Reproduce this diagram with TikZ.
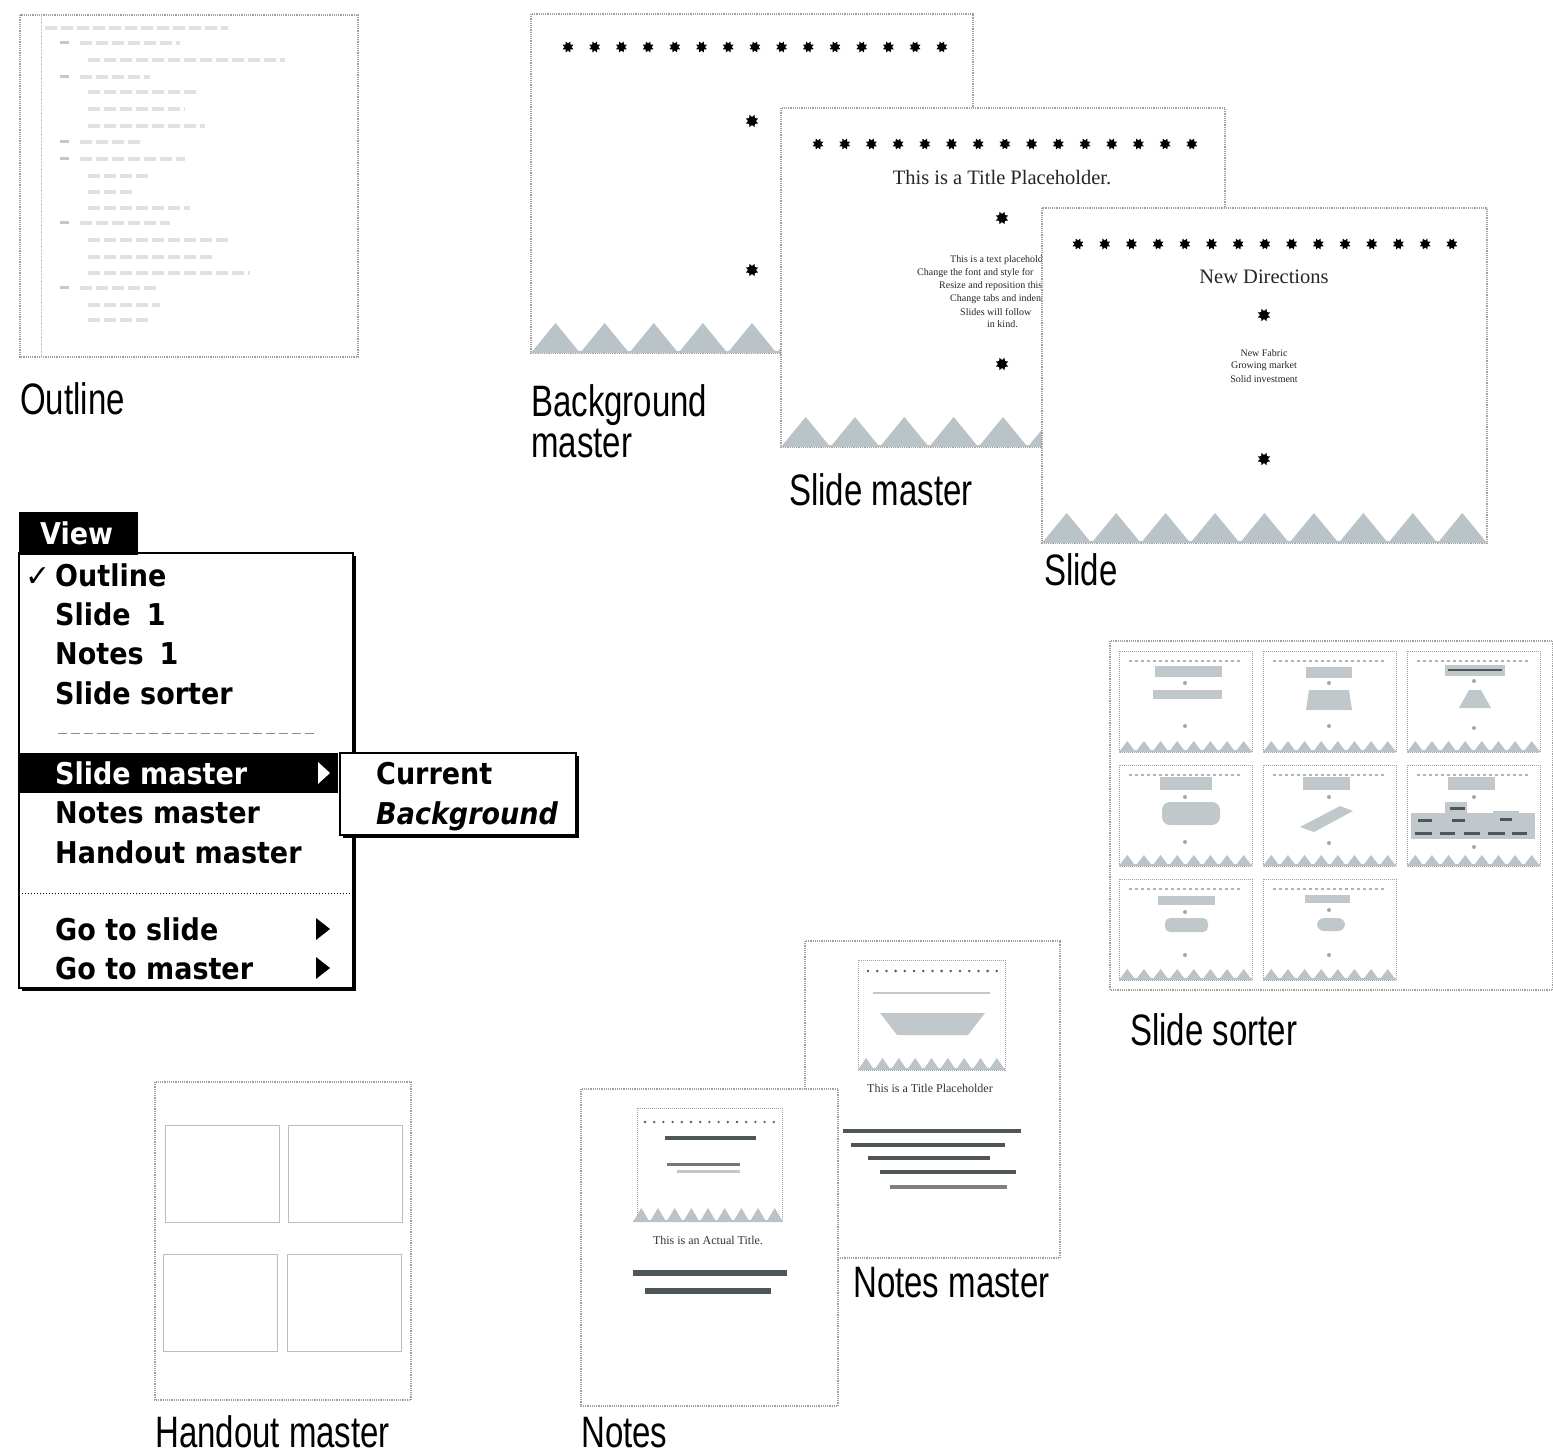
\documentclass[tikz,border=0pt]{standalone}
\usepackage{fontspec}
\setmainfont{Liberation Serif}
\newfontfamily\capfont[FakeStretch=0.75]{Liberation Sans}
\newfontfamily\menufont[FakeStretch=0.9]{DejaVu Sans}
\newfontfamily\symfont{DejaVu Sans}
\usetikzlibrary{shapes.geometric}

\definecolor{hill}{RGB}{186,195,199}
\definecolor{blot}{RGB}{192,200,204}
\definecolor{ink}{RGB}{78,86,90}
\definecolor{frame}{RGB}{160,160,160}
\definecolor{faint}{RGB}{224,226,226}

\tikzset{
  page/.style={draw=frame, line width=1.2pt, densely dotted, fill=white},
  caption/.style={anchor=base west, inner sep=0pt, font=\capfont\fontsize{44}{48}\selectfont},
  menuitem/.style={anchor=base west, inner sep=0pt, font=\menufont\bfseries\fontsize{30}{32}\selectfont},
  dot/.style={star, star points=8, star point ratio=0.6, fill=black, inner sep=0pt, minimum size=8pt},
  slidetitle/.style={inner sep=0pt, text=black!85, font=\fontsize{20.5}{24}\selectfont},
  slidetext/.style={inner sep=0pt, text=black!85, font=\fontsize{10}{13}\selectfont},
  notetitle/.style={inner sep=0pt, text=black!80, font=\fontsize{12}{14}\selectfont},
  noteline/.style={draw=ink, line width=4.5pt},
  olline/.style={draw=faint, line width=3.5pt, dash pattern=on 12pt off 4pt},
  tmark/.style={circle, fill=black!35, inner sep=0pt, minimum size=4pt},
  thumb/.style={draw=frame, line width=1pt, densely dotted, fill=white},
}

% row of fifteen stars across a slide
\newcommand\starrow[3]{%
  \foreach \k in {0,...,14}
    \node[dot, minimum size=7pt] (#3\k) at ({#1+\k*26.7},#2) {};
}
% hills along the foot of a slide: left x, width, foot y, height, count
\newcommand\hills[5]{%
  \pgfmathsetmacro\hw{#2/#5}
  \fill[hill] (#1,#3) rectangle ({#1+#2},{#3-2});
  \foreach \k in {1,...,#5}
    \fill[hill] ({#1+(\k-1)*\hw},#3) -- ({#1+(\k-0.5)*\hw},{#3-#4}) -- ({#1+\k*\hw},#3) -- cycle;
}
% one small slide of the sorter
\newcommand\thumbbox{%
  \draw[thumb] (0,0) rectangle (133,101);
  \draw[black!30, line width=1.5pt, dash pattern=on 3pt off 3pt] (10,10) -- (123,10);
  \hills{0}{133}{101}{11}{8}
}

\begin{document}
\begin{tikzpicture}[x=1pt,y=-1pt]
  \useasboundingbox (0,0) rectangle (1553,1455);

  % outline view
  \draw[page] (20,15) rectangle (358,357);
  \draw[frame!60, densely dotted] (41,15) -- (41,357);
  \draw[olline] (45,28) -- (228,28);
  \foreach \y/\e in {43/180, 77/150, 142/140, 159/185, 223/170, 288/160}{
    \draw[black!22, line width=3pt] (60,\y) -- (69,\y);
    \draw[olline] (80,\y) -- (\e,\y);
  }
  \foreach \y/\e in {60/285, 92/200, 109/185, 126/205, 176/150, 192/135, 208/190, 240/230, 257/215, 273/250, 305/160, 320/150}
    \draw[olline] (88,\y) -- (\e,\y);
  \node[caption] (outlinecap) at (20,414) {Outline};

  % background master
  \draw[page] (531,14) rectangle (973,353);
  \starrow{568}{47}{bg}
  \node[dot] (bgdot1) at (752,121) {};
  \node[dot] (bgdot2) at (752,270) {};
  \hills{531}{442}{353}{30}{9}
  \node[caption] (bgcap1) at (531,416) {Background};
  \node[caption] (bgcap2) at (531,457) {master};

  % slide master
  \draw[page] (781,108) rectangle (1225,447);
  \starrow{818}{144}{sm}
  \node[slidetitle] (smtitle) at (1002,178) {This is a Title Placeholder.};
  \node[dot] (smdot1) at (1002,218) {};
  \node[slidetext, anchor=west] (smt1) at (950,260) {This is a text placeholder.};
  \node[slidetext, anchor=west] (smt2) at (917,273) {Change the font and style for};
  \node[slidetext, anchor=west] (smt3) at (939,286) {Resize and reposition this};
  \node[slidetext, anchor=west] (smt4) at (950,299) {Change tabs and indents};
  \node[slidetext, anchor=west] (smt5) at (960,312) {Slides will follow};
  \node[slidetext, anchor=west] (smt6) at (987,324) {in kind.};
  \node[dot] (smdot2) at (1002,364) {};
  \hills{781}{444}{447}{30}{9}
  \node[caption] (smcap) at (789,505) {Slide master};

  % slide
  \draw[page] (1042,208) rectangle (1487,543);
  \starrow{1078}{244}{sl}
  \node[slidetitle] (sltitle) at (1264,277) {New Directions};
  \node[dot] (sldot1) at (1264,315) {};
  \node[slidetext] (slt1) at (1264,353) {New Fabric};
  \node[slidetext] (slt2) at (1264,366) {Growing market};
  \node[slidetext] (slt3) at (1264,379) {Solid investment};
  \node[dot] (sldot2) at (1264,459) {};
  \hills{1042}{445}{543}{30}{9}
  \node[caption] (slcap) at (1044,585) {Slide};

  % view menu
  \fill (22,556) rectangle (356,991);
  \draw[line width=1.5pt, fill=white] (19,553) rectangle (353,988);
  \fill (19,512) rectangle (138,555);
  \node[menuitem, text=white] (view) at (40,544) {View};
  \node[anchor=base west, inner sep=0pt, font=\symfont\bfseries\fontsize{30}{30}\selectfont] (tick) at (25,586) {✓};
  \node[menuitem] (mOutline) at (55,586) {Outline};
  \node[menuitem] (mSlide) at (55,625) {Slide\hspace{16pt}1};
  \node[menuitem] (mNotes) at (55,664) {Notes\hspace{16pt}1};
  \node[menuitem] (mSorter) at (55,704) {Slide sorter};
  \draw[black!45, line width=1pt, dash pattern=on 9pt off 4pt] (58,733) -- (318,733);
  \fill (19,753) rectangle (338,793);
  \node[menuitem, text=white] (mSlideMaster) at (55,784) {Slide master};
  \fill[white] (318,762) -- (330,773) -- (318,784) -- cycle;
  \node[menuitem] (mNotesMaster) at (55,823) {Notes master};
  \node[menuitem] (mHandout) at (55,863) {Handout master};
  \draw[line width=1pt, dotted] (19,893) -- (351,893);
  \node[menuitem] (mGoSlide) at (55,940) {Go to slide};
  \fill (316,918) -- (330,929) -- (316,940) -- cycle;
  \node[menuitem] (mGoMaster) at (55,979) {Go to master};
  \fill (316,957) -- (330,968) -- (316,979) -- cycle;

  % submenu
  \fill (343,756) rectangle (579,838);
  \draw[line width=1.5pt, fill=white] (340,753) rectangle (576,835);
  \node[menuitem] (sCurrent) at (376,784) {Current};
  \node[menuitem, font=\menufont\bfseries\itshape\fontsize{30}{32}\selectfont] (sBackground) at (376,824) {Background};

  % slide sorter
  \draw[page] (1110,641) rectangle (1553,990);
  \begin{scope}[shift={(1119,651)}]
    \thumbbox
    \fill[blot] (36,15) rectangle (103,26);
    \node[tmark] (t1a) at (66,32) {};
    \fill[blot] (34,39) rectangle (103,48);
    \node[tmark] (t1b) at (66,75) {};
  \end{scope}
  \begin{scope}[shift={(1263,651)}]
    \thumbbox
    \fill[blot] (43,16) rectangle (89,27);
    \node[tmark] (t2a) at (66,32) {};
    \fill[blot] (46,39) -- (86,39) -- (89,59) -- (43,59) -- cycle;
    \node[tmark] (t2b) at (66,75) {};
  \end{scope}
  \begin{scope}[shift={(1407,651)}]
    \thumbbox
    \fill[blot] (38,14) rectangle (98,25);
    \draw[ink, line width=1.5pt] (41,19) -- (95,19);
    \node[tmark] (t3a) at (67,30) {};
    \fill[blot] (62,39) -- (74,39) -- (84,57) -- (52,57) -- cycle;
    \node[tmark] (t3b) at (67,77) {};
  \end{scope}
  \begin{scope}[shift={(1119,765)}]
    \thumbbox
    \fill[blot] (41,12) rectangle (93,25);
    \node[tmark] (t4a) at (66,32) {};
    \fill[blot, rounded corners=8pt] (43,37) rectangle (101,60);
    \node[tmark] (t4b) at (66,77) {};
  \end{scope}
  \begin{scope}[shift={(1263,765)}]
    \thumbbox
    \fill[blot] (40,12) rectangle (87,25);
    \node[tmark] (t5a) at (66,32) {};
    \fill[blot] (37,62) -- (77,41) -- (90,46) -- (51,67) -- cycle;
    \node[tmark] (t5b) at (66,78) {};
  \end{scope}
  \begin{scope}[shift={(1407,765)}]
    \thumbbox
    \fill[blot] (41,12) rectangle (88,25);
    \node[tmark] (t6a) at (67,32) {};
    \fill[blot] (38,37) rectangle (60,50);
    \fill[blot] (4,48) rectangle (128,74);
    \fill[blot] (86,46) rectangle (112,50);
    \foreach \a/\b/\y in {43/58/43, 11/25/55, 45/58/55, 93/105/54, 8/25/68, 33/48/68, 57/73/68, 81/98/68, 105/120/68}
      \draw[ink, line width=3pt] (\a,\y) -- (\b,\y);
    \node[tmark] (t6b) at (67,82) {};
  \end{scope}
  \begin{scope}[shift={(1119,879)}]
    \thumbbox
    \fill[blot] (39,17) rectangle (96,26);
    \node[tmark] (t7a) at (66,33) {};
    \fill[blot, rounded corners=5pt] (46,39) rectangle (89,53);
    \node[tmark] (t7b) at (66,76) {};
  \end{scope}
  \begin{scope}[shift={(1263,879)}]
    \thumbbox
    \fill[blot] (42,16) rectangle (87,24);
    \node[tmark] (t8a) at (66,31) {};
    \fill[blot, rounded corners=7pt] (54,39) rectangle (82,52);
    \node[tmark] (t8b) at (66,76) {};
  \end{scope}
  \node[caption] (sortcap) at (1130,1045) {Slide sorter};

  % notes master
  \draw[page] (805,941) rectangle (1060,1258);
  \draw[thumb] (858,960) rectangle (1005,1070);
  \foreach \k in {0,...,14}
    \fill[black!65] ({868+\k*9.2},971) circle (1.4);
  \draw[blot, line width=2.5pt] (873,993) -- (990,993);
  \fill[blot] (880,1013) -- (985,1013) -- (968,1035) -- (897,1035) -- cycle;
  \hills{858}{147}{1070}{12}{9}
  \node[notetitle] (nmtitle) at (930,1088) {This is a Title Placeholder};
  \draw[noteline] (843,1131) -- (1021,1131);
  \draw[noteline] (851,1145) -- (1005,1145);
  \draw[noteline] (868,1158) -- (990,1158);
  \draw[noteline] (880,1172) -- (1016,1172);
  \draw[noteline, draw=ink!75] (890,1187) -- (1007,1187);
  \node[caption] (nmcap) at (853,1297) {Notes master};

  % notes
  \draw[page] (581,1089) rectangle (838,1406);
  \draw[thumb] (637,1108) rectangle (782,1220);
  \foreach \k in {0,...,14}
    \fill[black!65] ({645+\k*9.2},1122) circle (1.3);
  \draw[noteline] (665,1138) -- (756,1138);
  \draw[ink!80, line width=3pt] (667,1164) -- (740,1164);
  \draw[blot, line width=3pt] (677,1171) -- (740,1171);
  \hills{633}{150}{1222}{14}{9}
  \node[notetitle] (ntitle) at (708,1240) {This is an Actual Title.};
  \draw[noteline, line width=5.5pt] (633,1273) -- (787,1273);
  \draw[noteline, line width=5.5pt] (645,1291) -- (771,1291);
  \node[caption] (ncap) at (581,1447) {Notes};

  % handout master
  \draw[page] (155,1082) rectangle (411,1400);
  \foreach \x/\y in {165/1125, 288/1125, 163/1254, 287/1254}
    \draw[frame!70, line width=0.8pt] (\x,\y) rectangle ++(114,97);
  \node[caption] (hcap) at (155,1447) {Handout master};
\end{tikzpicture}
\end{document}
